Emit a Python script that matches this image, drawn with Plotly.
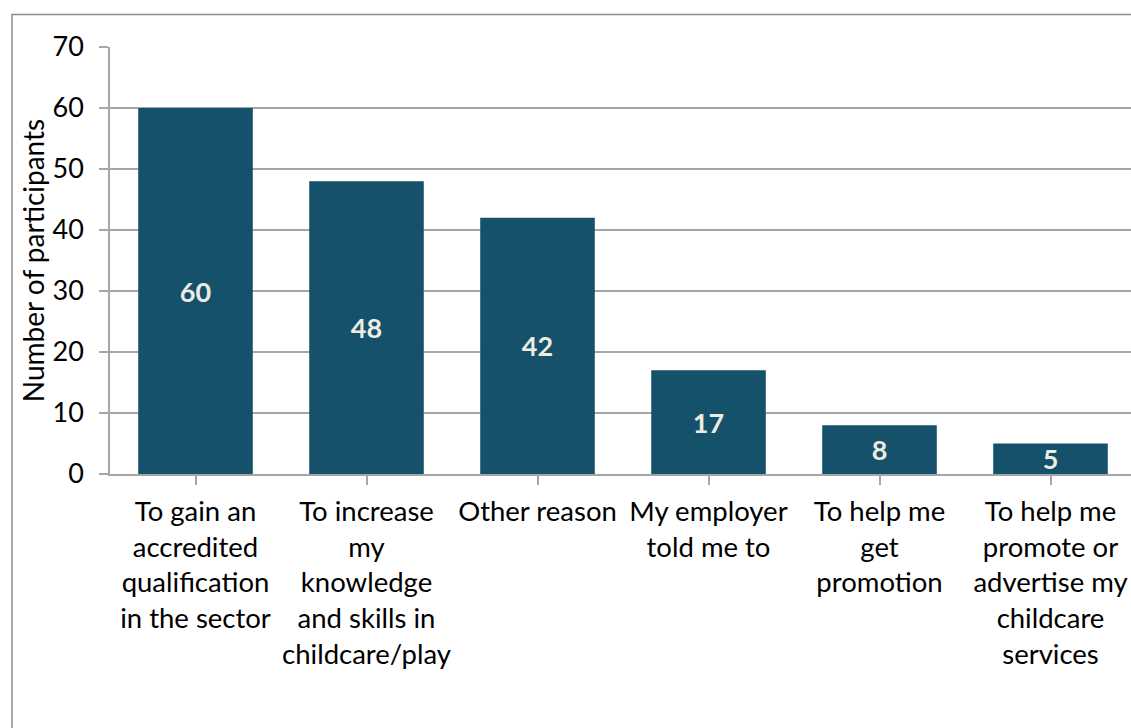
import plotly.graph_objects as go

categories = [
    "To gain an<br>accredited<br>qualification<br>in the sector",
    "To increase<br>my<br>knowledge<br>and skills in<br>childcare/play",
    "Other reason",
    "My employer<br>told me to",
    "To help me<br>get<br>promotion",
    "To help me<br>promote or<br>advertise my<br>childcare<br>services",
]
values = [60, 48, 42, 17, 8, 5]
y_ticks = [0, 10, 20, 30, 40, 50, 60, 70]

W, H = 1131, 728
ML, MT, MR = 110, 47, 0
MB = H - MT - 427
plot_w = W - ML - MR
plot_h = H - MT - MB
cat_px = 171.0

FONT = "Lato"
BAR = "#15516b"
GRID = "#a6a6a6"

fig = go.Figure(go.Bar(
    x=list(range(len(categories))),
    y=values,
    marker=dict(color=BAR, line=dict(width=0)),
    width=0.67,
    text=[str(v) for v in values],
    textposition="inside",
    insidetextanchor="middle",
    textangle=0,
    constraintext="none",
    textfont=dict(family=FONT, size=27, color="#eeece1", weight="bold"),
    cliponaxis=False,
    hoverinfo="skip",
))

fig.update_layout(
    width=W, height=H,
    margin=dict(l=ML, r=MR, t=MT, b=MB, pad=0),
    paper_bgcolor="white", plot_bgcolor="white",
    showlegend=False,
    font=dict(family=FONT, size=27, color="#000000"),
    xaxis=dict(
        tickmode="array",
        tickvals=list(range(len(categories))),
        ticktext=categories,
        tickson="boundaries",
        ticks="outside", ticklen=9, tickcolor=GRID, tickwidth=1.5,
        ticklabelstandoff=3,
        range=[-0.5, -0.5 + plot_w / cat_px],
        showline=True, linecolor=GRID, linewidth=1.5,
        showgrid=False,
        tickfont=dict(family=FONT, size=27.5, color="#000000"),
        fixedrange=True,
    ),
    yaxis=dict(
        range=[0, 70],
        tickvals=y_ticks,
        ticks="outside", ticklen=9, tickcolor=GRID, tickwidth=1.5,
        ticklabelstandoff=10,
        showline=True, linecolor=GRID, linewidth=1.5,
        showgrid=True, gridcolor=GRID, gridwidth=1.5,
        zeroline=False,
        tickfont=dict(family=FONT, size=27, color="#000000"),
        title=dict(text="Number of participants", font=dict(family=FONT, size=28, color="#000000"), standoff=0),
        fixedrange=True,
    ),
    shapes=[dict(
        type="rect", xref="paper", yref="paper",
        x0=(12 - ML) / plot_w, x1=(W + 5 - ML) / plot_w,
        y0=-(MB + 10) / plot_h, y1=1 + (MT - 14.5) / plot_h,
        line=dict(color="#8c8c8c", width=1.5), layer="below",
    )],
)

fig.write_html(
    "out.html",
    config={"displayModeBar": False},
    post_script="document.body.style.margin='0px';document.body.style.overflow='hidden';",
)
